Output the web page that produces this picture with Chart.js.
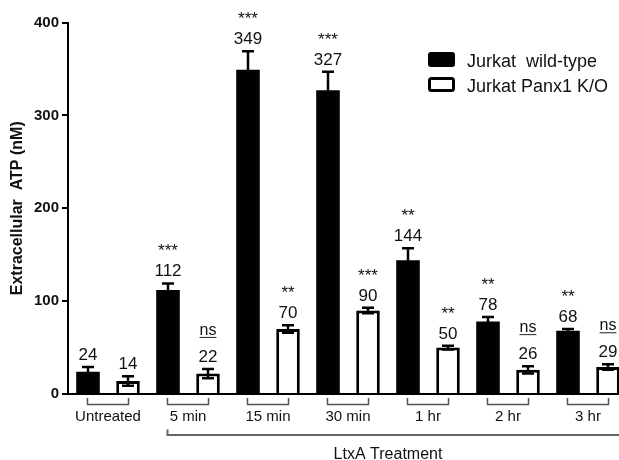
<!DOCTYPE html>
<html>
<head>
<meta charset="utf-8">
<script src="https://cdn.jsdelivr.net/npm/chart.js@4/dist/chart.umd.min.js"></script>
<style>
html,body{margin:0;padding:0;overflow:hidden;background:#fff;width:619px;height:460px;}
canvas{display:block;}
</style>
</head>
<body>
<canvas id="c" width="628" height="460"></canvas>
<script>
const categories = ['Untreated', '5 min', '15 min', '30 min', '1 hr', '2 hr', '3 hr'];
const wtValues = [24, 112, 349, 327, 144, 78, 68];
const koValues = [14, 22, 70, 90, 50, 26, 29];
const wtErrors = [5, 7, 20, 20, 13, 5, 2];
const koErrors = [5, 5, 4, 3, 2, 4, 3];
const wtSig = ['', '***', '***', '***', '**', '**', '**'];
const koSig = ['', 'ns', '**', '***', '**', 'ns', 'ns'];
const yTicks = [0, 100, 200, 300, 400];
const seriesNames = ['Jurkat  wild-type', 'Jurkat Panx1 K/O'];
const groupLabel = 'LtxA Treatment';
const yTitle = 'Extracellular  ATP (nM)';

const FONT = '"Liberation Sans", Arial, sans-serif';
const errors = [wtErrors, koErrors];
const sigs = [wtSig, koSig];

const annotate = {
  id: 'annotate',
  afterDatasetsDraw(chart) {
    const ctx = chart.ctx;
    const y = chart.scales.y;
    const x = chart.scales.x;
    ctx.save();
    // error bars + labels
    chart.data.datasets.forEach((ds, di) => {
      const meta = chart.getDatasetMeta(di);
      meta.data.forEach((el, i) => {
        const v = ds.data[i];
        const e = errors[di][i];
        const yt = y.getPixelForValue(v + e);
        const yb = y.getPixelForValue(v - e);
        ctx.strokeStyle = '#000';
        ctx.lineWidth = 2.5;
        ctx.beginPath();
        ctx.moveTo(el.x, yb); ctx.lineTo(el.x, yt);
        ctx.moveTo(el.x - 6, yt); ctx.lineTo(el.x + 6, yt);
        ctx.moveTo(el.x - 6, yb); ctx.lineTo(el.x + 6, yb);
        ctx.stroke();
        ctx.fillStyle = '#111';
        ctx.textAlign = 'center';
        ctx.textBaseline = 'alphabetic';
        ctx.font = '17px ' + FONT;
        ctx.fillText(String(v), el.x, yt - 7);
        const s = sigs[di][i];
        if (s === 'ns') {
          ctx.font = '16px ' + FONT;
          const by = yt - 34;
          ctx.fillText(s, el.x, by);
          const w = ctx.measureText(s).width;
          ctx.lineWidth = 1;
          ctx.strokeStyle = '#222';
          ctx.beginPath();
          ctx.moveTo(el.x - w / 2, by + 2.5); ctx.lineTo(el.x + w / 2, by + 2.5);
          ctx.stroke();
        } else if (s) {
          ctx.font = '17px ' + FONT;
          ctx.fillText(s, el.x, yt - 27);
        }
      });
    });
    // brackets under groups
    ctx.strokeStyle = '#555';
    ctx.lineWidth = 1.5;
    categories.forEach((c, i) => {
      const cx = x.getPixelForValue(i);
      ctx.beginPath();
      ctx.moveTo(cx - 20.5, 398); ctx.lineTo(cx - 20.5, 404.5);
      ctx.lineTo(cx + 20.5, 404.5); ctx.lineTo(cx + 20.5, 398);
      ctx.stroke();
    });
    // LtxA treatment bracket
    const x1 = x.getPixelForValue(1) - 20.5;
    ctx.strokeStyle = '#666';
    ctx.lineWidth = 2;
    ctx.beginPath();
    ctx.moveTo(x1, 429.5); ctx.lineTo(x1, 435); ctx.lineTo(chart.width, 435);
    ctx.stroke();
    const mid = (x.getPixelForValue(1) + x.getPixelForValue(categories.length - 1)) / 2;
    ctx.fillStyle = '#111';
    ctx.font = '16px ' + FONT;
    ctx.textAlign = 'center';
    ctx.textBaseline = 'alphabetic';
    ctx.fillText(groupLabel, mid, 459);
    // legend
    ctx.fillStyle = '#000';
    ctx.beginPath();
    ctx.roundRect(428, 52, 27, 15, 3);
    ctx.fill();
    ctx.fillStyle = '#fff';
    ctx.strokeStyle = '#000';
    ctx.lineWidth = 3;
    ctx.beginPath();
    ctx.roundRect(429.5, 78.5, 24, 12, 2);
    ctx.fill(); ctx.stroke();
    ctx.fillStyle = '#111';
    ctx.font = '18px ' + FONT;
    ctx.textAlign = 'left';
    ctx.fillText(seriesNames[0], 467, 66.5);
    ctx.fillText(seriesNames[1], 467, 91.5);
    ctx.restore();
  }
};

new Chart(document.getElementById('c'), {
  type: 'bar',
  data: {
    labels: categories,
    datasets: [
      { label: seriesNames[0], data: wtValues, backgroundColor: '#000', borderColor: '#000', borderWidth: 0,
        barPercentage: 0.59, categoryPercentage: 1.0 },
      { label: seriesNames[1], data: koValues, backgroundColor: '#fff', borderColor: '#000', borderWidth: 3,
        barPercentage: 0.59, categoryPercentage: 1.0 }
    ]
  },
  options: {
    responsive: false,
    animation: false,
    devicePixelRatio: 1,
    layout: { padding: { top: 22.5, left: 0, right: 0, bottom: 0 } },
    plugins: { legend: { display: false }, tooltip: { enabled: false } },
    scales: {
      x: {
        offset: true,
        grid: { display: false, drawTicks: false },
        border: { display: true, color: '#000', width: 2 },
        ticks: { color: '#111', font: { family: FONT, size: 15 }, padding: 14, maxRotation: 0, autoSkip: false },
        afterFit(s) { s.height = 66; }
      },
      y: {
        min: 0, max: 400,
        afterBuildTicks(s) { s.ticks = yTicks.map(v => ({ value: v })); },
        grid: { drawOnChartArea: false, drawTicks: true, tickLength: 6, color: '#000', lineWidth: 2 },
        border: { display: true, color: '#000', width: 2 },
        ticks: { color: '#111', font: { family: FONT, size: 15, weight: 'bold' }, padding: 3 },
        title: { display: true, text: yTitle, color: '#111', font: { family: FONT, size: 16, weight: 'bold' }, padding: { top: 8, bottom: 0 } },
        afterFit(s) { s.width = 68; }
      }
    }
  },
  plugins: [annotate]
});
</script>
</body>
</html>
